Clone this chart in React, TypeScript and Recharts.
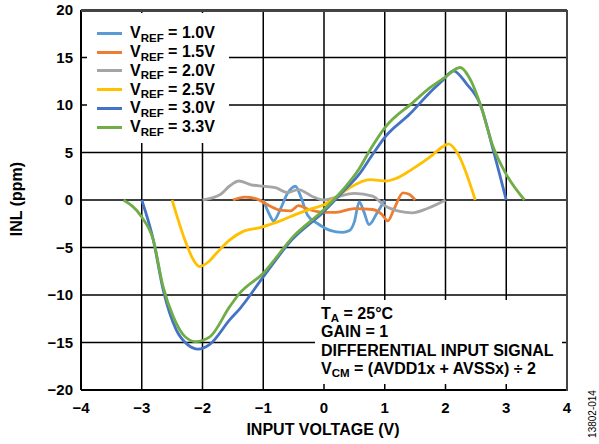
import React from 'react';
import { LineChart, Line, XAxis, YAxis, CartesianGrid } from 'recharts';

const xTicks = [-4, -3, -2, -1, 0, 1, 2, 3, 4];
const yTicks = [-20, -15, -10, -5, 0, 5, 10, 15, 20];

const seriesNames = ['1.0V', '1.5V', '2.0V', '2.5V', '3.0V', '3.3V'];
const seriesColors = ['#5B9BD5', '#ED7D31', '#A5A5A5', '#FFC000', '#4472C4', '#70AD47'];

const v10x = [-1, -0.9, -0.83, -0.72, -0.6, -0.47, -0.38, -0.27, -0.1, 0.1, 0.3, 0.42, 0.5, 0.58, 0.66, 0.74, 0.87, 1.0];
const v10y = [0, -1.5, -2.2, -1.0, 0.7, 1.45, 0.3, -1.6, -2.5, -3.2, -3.4, -3.2, -2.3, -0.2, -1.3, -2.6, -1.4, 0];

const v15x = [-1.5, -1.3, -1.1, -0.9, -0.7, -0.55, -0.42, -0.25, 0, 0.2, 0.5, 0.8, 0.95, 1.05, 1.15, 1.3, 1.4, 1.5];
const v15y = [0, 0.3, 0.1, -0.6, -1.1, -1.15, -0.6, -1.0, -1.3, -1.3, -0.9, -1.0, -1.5, -2.2, -1.0, 0.75, 0.6, 0];

const v20x = [-2, -1.7, -1.55, -1.4, -1.2, -1.0, -0.8, -0.6, -0.42, -0.2, 0, 0.2, 0.5, 0.8, 1.0, 1.25, 1.45, 1.7, 2.0];
const v20y = [0, 0.6, 1.5, 2.0, 1.6, 1.45, 1.3, 0.8, 1.1, 0.4, 0, 0.3, 0.7, 0.4, -0.6, -1.2, -1.35, -0.9, 0];

const v25x = [-2.5, -2.29, -2.15, -2.05, -1.9, -1.77, -1.55, -1.33, -1.05, -0.72, -0.4, -0.2, 0, 0.2, 0.4, 0.76, 1.03, 1.2, 1.44, 1.8, 1.95, 2.05, 2.2, 2.49];
const v25y = [0, -4.2, -6.3, -7.0, -6.5, -5.6, -4.2, -3.3, -2.9, -2.2, -1.35, -0.9, -0.5, 0.3, 1.2, 2.15, 2.0, 2.3, 3.2, 4.8, 5.6, 5.9, 4.9, 0];

const v30x = [-3, -2.81, -2.65, -2.43, -2.25, -2.07, -1.88, -1.55, -1.38, -1.0, -0.53, 0, 0.3, 0.59, 0.78, 1.0, 1.42, 1.74, 1.94, 2.13, 2.35, 2.57, 2.79, 3.0];
const v30y = [0, -4.2, -9.4, -13.7, -15.2, -15.7, -15.2, -12.6, -11.4, -8.1, -4.2, -1.2, 0.8, 2.8, 4.6, 6.6, 9.1, 11.3, 12.5, 13.6, 12.2, 10.1, 5.15, 0];

const v33x = [-3.3, -3.0, -2.81, -2.65, -2.48, -2.3, -2.12, -1.88, -1.55, -1.4, -1.0, -0.5, 0, 0.3, 0.57, 0.76, 1.0, 1.47, 1.74, 1.99, 2.24, 2.43, 2.57, 2.79, 3.0, 3.3];
const v33y = [0, -1.8, -4.2, -9.1, -12.3, -14.3, -14.9, -14.4, -11.2, -9.9, -7.7, -3.8, -1.0, 1.0, 3.2, 5.3, 7.6, 10.3, 11.8, 12.9, 13.95, 12.4, 10.1, 5.5, 2.7, 0];

const toRows = (xs: number[], ys: number[]) => xs.map((x, i) => ({ x, y: ys[i] }));
const allSeries = [
  toRows(v10x, v10y),
  toRows(v15x, v15y),
  toRows(v20x, v20y),
  toRows(v25x, v25y),
  toRows(v30x, v30y),
  toRows(v33x, v33y),
];

const FONT = '"Liberation Sans", Arial, Helvetica, sans-serif';
const fmt = (v: number) => (v < 0 ? '\u2212' + Math.abs(v) : String(v));

const legendCenters = [33, 52, 70.5, 89.5, 108, 127];
const noteLines = [313.5, 332, 351, 368.5];

const Sub = ({ children }: { children: React.ReactNode }) => (
  <span style={{ fontSize: 11.5, position: 'relative', top: 3.5, lineHeight: 0 }}>{children}</span>
);

export default function App() {
  const tickStyle = { fill: '#000', fontSize: 15, fontWeight: 'bold' as const, fontFamily: FONT };
  const textLine = (top: number): React.CSSProperties => ({
    position: 'absolute', left: 321, top: top - 7.8, height: 16, lineHeight: '16px', fontSize: 16, fontWeight: 'bold', whiteSpace: 'nowrap',
  });
  return (
    <div style={{ position: 'absolute', left: 0, top: 0, width: 599, height: 444, background: '#fff', fontFamily: FONT, color: '#000' }}>
      <LineChart width={599} height={444} margin={{ top: 10, right: 32, bottom: 24, left: 0 }}>
        <CartesianGrid stroke="#000" strokeWidth={1.5} />
        <XAxis
          dataKey="x"
          type="number"
          domain={[-4, 4]}
          ticks={xTicks}
          tickFormatter={fmt}
          tick={tickStyle}
          tickLine={false}
          tickMargin={6}
          height={30}
          axisLine={{ stroke: '#000', strokeWidth: 2 }}
          allowDuplicatedCategory={false}
        />
        <YAxis
          type="number"
          domain={[-20, 20]}
          ticks={yTicks}
          tickFormatter={fmt}
          tick={tickStyle}
          tickLine={false}
          width={81}
          axisLine={{ stroke: '#000', strokeWidth: 2 }}
        />
        {allSeries.map((d, i) => (
          <Line
            key={seriesNames[i]}
            data={d}
            dataKey="y"
            type="monotone"
            stroke={seriesColors[i]}
            strokeWidth={2.8}
            dot={false}
            activeDot={false}
            isAnimationActive={false}
          />
        ))}
      </LineChart>

      {/* legend */}
      <div style={{ position: 'absolute', left: 87, top: 13, width: 142, height: 130, background: '#fff' }} />
      {seriesNames.map((n, i) => (
        <React.Fragment key={n}>
          <div style={{ position: 'absolute', left: 97, top: legendCenters[i] - 1.5, width: 25, height: 3, background: seriesColors[i] }} />
          <div style={{ position: 'absolute', left: 130, top: legendCenters[i] - 7.8, height: 16, lineHeight: '16px', fontSize: 16, fontWeight: 'bold', whiteSpace: 'nowrap' }}>
            V<Sub>REF</Sub> = {n}
          </div>
        </React.Fragment>
      ))}

      {/* annotation */}
      <div style={{ position: 'absolute', left: 315, top: 300, width: 247, height: 84, background: '#fff' }} />
      <div style={textLine(noteLines[0])}>
        T<Sub>A</Sub> = 25°C
      </div>
      <div style={textLine(noteLines[1])}>GAIN = 1</div>
      <div style={textLine(noteLines[2])}>DIFFERENTIAL INPUT SIGNAL</div>
      <div style={textLine(noteLines[3])}>
        V<Sub>CM</Sub> = (AVDD1x + AVSSx) ÷ 2
      </div>

      {/* frame top/right */}
      <div style={{ position: 'absolute', left: 81, top: 10, width: 485, height: 379, borderTop: '2px solid #444', borderRight: '2px solid #444', pointerEvents: 'none' }} />

      {/* axis titles */}
      <div style={{ position: 'absolute', left: 223, top: 422, width: 200, textAlign: 'center', lineHeight: '16px', fontSize: 16, fontWeight: 'bold', whiteSpace: 'nowrap' }}>
        INPUT VOLTAGE (V)
      </div>
      <div style={{ position: 'absolute', left: 17 - 60, top: 199 - 8, width: 120, height: 16, textAlign: 'center', lineHeight: '16px', fontSize: 16, fontWeight: 'bold', whiteSpace: 'nowrap', transform: 'rotate(-90deg)' }}>
        INL (ppm)
      </div>
      <div style={{ position: 'absolute', left: 593 - 40, top: 414 - 6, width: 80, height: 12, textAlign: 'center', lineHeight: '12px', fontSize: 10, whiteSpace: 'nowrap', transform: 'rotate(-90deg)' }}>
        13802-014
      </div>
    </div>
  );
}
